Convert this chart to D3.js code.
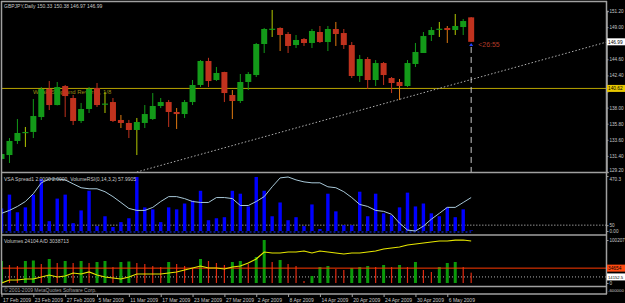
<!DOCTYPE html>
<html>
<head>
<meta charset="utf-8">
<script src="https://cdn.jsdelivr.net/npm/d3@7"></script>
<style>
  html, body { margin: 0; padding: 0; background: #000; overflow: hidden; }
  svg { display: block; }
  text { font-family: "Liberation Sans", Arial, sans-serif; }
</style>
</head>
<body>
<svg id="chart"></svg>
<script>
const WIDTH = 625;
const HEIGHT = 303;

// daily candles, 17 Feb 2009 .. 11 May 2009 (60 bars)
const opens  = [130.98,131.52,133.44,134.60,134.67,136.71,140.54,138.35,140.95,139.31,
                136.17,137.81,140.68,138.45,138.76,136.31,135.90,134.94,135.90,136.44,
                138.22,138.76,137.40,137.12,138.76,141.09,144.37,141.77,142.86,139.72,
                138.90,141.50,142.45,146.69,148.70,148.88,148.06,146.55,147.37,146.83,
                148.33,146.96,148.74,148.19,146.55,142.32,144.64,141.77,144.09,142.04,
                141.50,140.95,143.96,145.46,147.92,148.70,148.88,148.60,149.01,150.33];
const highs  = [132.20,133.84,136.44,135.35,139.17,140.81,141.63,141.50,141.09,139.72,
                138.63,140.81,141.36,140.13,139.31,136.99,136.31,136.58,138.35,139.99,
                139.31,139.04,137.94,139.04,141.77,144.50,144.80,143.55,142.90,140.40,
                142.59,142.86,146.83,148.88,151.34,148.95,148.33,147.92,147.51,148.74,
                149.15,149.15,149.70,148.74,146.96,145.19,144.91,144.50,144.23,142.18,
                141.91,144.50,146.83,148.33,149.01,149.70,149.15,150.79,150.11,150.38];
const lows   = [130.56,130.43,133.03,132.62,133.84,136.31,137.67,138.30,136.71,135.62,
                135.90,137.26,138.08,137.26,136.03,135.21,133.84,131.52,135.21,136.31,
                137.94,135.35,135.08,136.58,138.35,140.81,140.81,141.63,138.76,136.44,
                138.63,140.40,142.18,145.46,147.65,145.73,145.46,146.14,146.42,146.14,
                146.83,145.73,146.42,146.01,142.04,141.50,140.54,140.95,141.09,139.99,
                139.04,140.81,143.55,145.46,147.10,147.65,146.83,147.92,147.92,146.97];
const closes = [131.66,133.44,134.53,134.67,136.85,140.54,138.35,140.81,139.58,136.17,
                137.81,140.54,138.35,138.55,136.17,135.90,134.94,136.03,137.12,138.22,
                138.76,137.40,137.12,138.76,141.09,144.37,141.63,142.73,139.99,138.90,
                141.50,142.59,146.69,148.74,148.78,147.92,146.42,147.24,146.83,148.47,
                146.96,148.74,148.06,146.55,142.32,144.64,141.77,144.09,142.45,141.36,
                140.95,144.09,145.60,147.78,148.60,148.78,148.60,149.15,149.83,146.99];

const dateTickIdx = [0, 4, 8, 12, 16, 20, 24, 28, 32, 36, 40, 44, 48, 52, 56];
const dateLabels = ["17 Feb 2009", "23 Feb 2009", "27 Feb 2009", "5 Mar 2009", "11 Mar 2009",
                    "17 Mar 2009", "23 Mar 2009", "27 Mar 2009", "2 Apr 2009", "8 Apr 2009",
                    "14 Apr 2009", "20 Apr 2009", "24 Apr 2009", "30 Apr 2009", "6 May 2009"];
const priceTicks = [129.2, 131.4, 133.6, 135.8, 138.0, 140.2, 142.4, 144.6, 146.8, 149.0, 151.2];

const levelPrice = 140.62;
const levelText = "Weak, Stop and Reverse, 1/8";
const trendPts = [[17, 129.2], [76, 146.95]];
const timerText = "<26:55";

// VSA spread histogram + VolumeRSI line
const spread = [193,311,160,202,311,445,84,277,311,67,
                176,344,42,126,34,76,109,462,202,185,
                76,202,185,235,260,344,92,109,118,344,
                319,210,462,344,126,244,92,118,42,227,
                17,319,168,50,50,336,126,319,151,134,
                202,328,210,235,151,126,202,118,185,5];
const volRsi = [151,176,210,252,319,412,445,445,437,403,
                370,361,361,336,294,244,193,176,176,202,
                252,294,294,277,252,244,244,286,286,277,
                218,218,252,294,378,454,462,437,420,412,
                412,378,370,336,286,227,210,176,168,143,
                67,8,0,42,101,151,202,202,244,286];
const spreadTicks = [470.3, 50, 0];
const spreadTickLabels = ["470.3", "50", "0.00"];

// Volumes + A/D
const volumes = [51260,41940,39610,51260,52425,44270,55920,46600,51260,46600,
                 51260,46600,48930,51260,37280,48930,50095,46600,44270,39610,
                 37280,48930,44270,39610,34950,55920,51260,46600,41940,48930,
                 51260,44270,60580,100207,48930,53590,44270,39610,4660,16310,
                 37280,39610,32620,30290,34950,37280,39610,37280,41940,37280,
                 41940,37280,48930,30290,25630,37280,46600,48930,37280,24104];
const adLine = [0,6990,6990,9320,9320,13980,18640,13980,16310,23300,
                20970,25630,18640,13980,11650,9320,13980,20970,20970,20970,
                20970,23300,25630,30290,34950,39610,34950,34950,32620,37280,
                39610,46600,55920,72230,69900,69900,72230,72230,74560,69900,
                74560,72230,69900,67570,69900,69900,72230,74560,79220,81550,
                83880,88540,90870,93200,95530,97860,97860,100100,100190,97860];
const volMa = 34654;
const volMark = 14152.5;

const svg = d3.select("#chart").attr("width", WIDTH).attr("height", HEIGHT);
svg.append("rect").attr("width", WIDTH).attr("height", HEIGHT).attr("fill", "#000");

const x = d3.scaleLinear().domain([0, 76]).range([1.5, 606.5]);
const yPrice = d3.scaleLinear().domain([129.2, 151.2]).range([172, 11]);
const ySpread = d3.scaleLinear().domain([0, 470.3]).range([231, 176]);
const yVol = d3.scaleLinear().domain([0, 100207]).range([283, 240]);

const defs = svg.append("defs");
const addClip = (id, y0, y1) => {
  defs.append("clipPath").attr("id", id)
      .append("rect").attr("x", 2).attr("y", y0).attr("width", 604).attr("height", y1 - y0);
};
addClip("clipMain", 2, 172);
addClip("clipSpread", 174, 234);
addClip("clipVol", 236, 286);

const smallText = (g, tx, ty, str, color, size) =>
  g.append("text").attr("x", tx).attr("y", ty).attr("fill", color)
   .attr("font-size", size || 5).text(str);

// ---------- main price panel ----------
const main = svg.append("g").attr("clip-path", "url(#clipMain)");

main.append("text")
    .attr("x", 33).attr("y", yPrice(levelPrice) + 5.5)
    .attr("fill", "#9c8c10").attr("font-size", 6)
    .text(levelText);

main.append("line")
    .attr("x1", 2).attr("x2", 606)
    .attr("y1", yPrice(levelPrice)).attr("y2", yPrice(levelPrice))
    .attr("stroke", "#b8a400").attr("stroke-width", 1);

main.append("line")
    .attr("x1", x(trendPts[0][0])).attr("y1", yPrice(trendPts[0][1]))
    .attr("x2", x(trendPts[1][0])).attr("y2", yPrice(trendPts[1][1]))
    .attr("stroke", "#b0b0b0").attr("stroke-width", 1)
    .attr("stroke-dasharray", "1.5,2");

const last = opens.length - 1;
main.append("line")
    .attr("x1", x(last)).attr("x2", x(last))
    .attr("y1", yPrice(lows[last]) + 5).attr("y2", 172)
    .attr("stroke", "#c8c8c8").attr("stroke-dasharray", "6,4");

const bull = i => closes[i] >= opens[i];
const bodyColor = i => bull(i) ? "#139a19" : "#c0321e";
const wickColor = i => {
  const small = Math.abs(closes[i] - opens[i]) < 0.3 * (highs[i] - lows[i]);
  if (bull(i)) return small ? "#b4c800" : "#139a19";
  return small ? "#e07a10" : "#c0321e";
};

const candles = main.selectAll("g.candle").data(d3.range(opens.length)).enter()
                    .append("g").attr("class", "candle");
candles.append("line")
       .attr("x1", i => x(i)).attr("x2", i => x(i))
       .attr("y1", i => yPrice(highs[i])).attr("y2", i => yPrice(lows[i]))
       .attr("stroke", wickColor).attr("stroke-width", 1);
candles.append("rect")
       .attr("x", i => x(i) - 3).attr("width", 6)
       .attr("y", i => yPrice(Math.max(opens[i], closes[i])))
       .attr("height", i => Math.max(1.2, Math.abs(yPrice(opens[i]) - yPrice(closes[i]))))
       .attr("fill", bodyColor);

// blue arrow under the last candle
const ax = x(last), ay = yPrice(lows[last]) + 1;
main.append("path")
    .attr("d", `M${ax},${ay} L${ax - 2},${ay + 3} L${ax + 2},${ay + 3} Z`)
    .attr("fill", "#2040ff");
main.append("text")
    .attr("x", x(last) + 7).attr("y", yPrice(lows[last]) + 5)
    .attr("fill", "#b03a28").attr("font-size", 7)
    .text(timerText);

smallText(svg, 4, 8, `GBPJPY,Daily  ${opens[last].toFixed(2)} ${highs[last].toFixed(2)} ${lows[last].toFixed(2)} ${closes[last].toFixed(2)}`, "#c8c8c8");

// ---------- VSA spread panel ----------
const sp = svg.append("g").attr("clip-path", "url(#clipSpread)");

sp.append("line")
  .attr("x1", 2).attr("x2", 606)
  .attr("y1", ySpread(50)).attr("y2", ySpread(50))
  .attr("stroke", "#909090").attr("stroke-dasharray", "1.5,1.5");

sp.selectAll("rect.sp").data(spread).enter().append("rect")
  .attr("x", (d, i) => x(i) - 1.7).attr("width", 3.4)
  .attr("y", d => ySpread(d))
  .attr("height", d => ySpread(0) - ySpread(d))
  .attr("fill", "#0000ff");

sp.append("line")
  .attr("x1", x(0)).attr("x2", x(last))
  .attr("y1", ySpread(0) + 1).attr("y2", ySpread(0) + 1)
  .attr("stroke", "#1030ff").attr("stroke-dasharray", "2,2");

sp.append("path")
  .datum(volRsi)
  .attr("d", d3.line().x((d, i) => x(i)).y(d => ySpread(d)))
  .attr("fill", "none").attr("stroke", "#a8c8d8").attr("stroke-width", 1);

smallText(svg, 4, 181, "VSA Spread1 2.0000 2.0000, VolumeRSI(0,14,3,2) 57.9905", "#c8c8c8");

// ---------- volumes panel ----------
const vp = svg.append("g").attr("clip-path", "url(#clipVol)");

vp.append("line")
  .attr("x1", 2).attr("x2", 606)
  .attr("y1", yVol(volMark)).attr("y2", yVol(volMark))
  .attr("stroke", "#b0b0b0").attr("stroke-dasharray", "1,2");

const volUp = i => i === 0 || volumes[i] > volumes[i - 1];
vp.selectAll("rect.vol").data(volumes).enter().append("rect")
  .attr("x", (d, i) => x(i) - (volUp(i) ? 1.5 : 0.6))
  .attr("width", (d, i) => volUp(i) ? 3 : 1.2)
  .attr("y", d => yVol(d))
  .attr("height", d => yVol(0) - yVol(d))
  .attr("fill", (d, i) => volUp(i) ? "#0a9a0a" : "#e02a10");

vp.append("line")
  .attr("x1", 2).attr("x2", 606)
  .attr("y1", yVol(volMa)).attr("y2", yVol(volMa))
  .attr("stroke", "#ff3a00").attr("stroke-width", 1);

vp.append("path")
  .datum(adLine)
  .attr("d", d3.line().x((d, i) => x(i)).y(d => yVol(d)))
  .attr("fill", "none").attr("stroke", "#e6e600").attr("stroke-width", 1.2);

smallText(svg, 4, 243, `Volumes ${volumes[last]}  A/D 3038713`, "#c8c8c8");
smallText(svg, 4, 292, "© 2001-2009 MetaQuotes Software Corp.", "#a0a0a0");

// ---------- frame ----------
const frame = svg.append("g").attr("stroke", "#a0a0a0").attr("stroke-width", 1.5);
[1.5, 172.5, 235, 286.5, 294].forEach(yy =>
  frame.append("line").attr("x1", 1).attr("x2", 607).attr("y1", yy).attr("y2", yy));
frame.append("line").attr("x1", 1.5).attr("x2", 1.5).attr("y1", 1).attr("y2", 294);

// ---------- axes ----------
const styleAxis = g => {
  g.select(".domain").attr("stroke", "#a0a0a0").attr("stroke-width", 1.5);
  g.selectAll(".tick line").attr("stroke", "#a0a0a0");
  g.selectAll(".tick text").attr("fill", "#c8c8c8").attr("font-size", 4.6)
   .attr("font-family", "Liberation Sans, Arial, sans-serif");
};

// price labels hidden where a value box sits on top of them
const boxPrices = [closes[last], levelPrice];
const priceAxis = svg.append("g").attr("transform", "translate(606.5,0)")
   .call(d3.axisRight(yPrice).tickValues(priceTicks).tickSize(2).tickPadding(1)
           .tickFormat(d3.format(".2f")))
   .call(styleAxis);
priceAxis.selectAll(".tick text")
   .attr("display", d => boxPrices.some(b => Math.abs(yPrice(b) - yPrice(d)) < 5) ? "none" : null)
   .attr("dy", d => d === 129.2 ? "-0.1em" : "0.32em");

const spreadAxis = svg.append("g").attr("transform", "translate(606.5,0)")
   .call(d3.axisRight(ySpread).tickValues(spreadTicks).tickSize(2).tickPadding(1)
           .tickFormat((d, i) => spreadTickLabels[i]))
   .call(styleAxis)
   .call(g => g.select(".domain").remove());
spreadAxis.selectAll(".tick text").attr("dy", d => d === 470.3 ? "0.9em" : "0.32em");

svg.append("g").attr("transform", "translate(606.5,0)")
   .call(d3.axisRight(yVol).tickValues([100207, 0]).tickSize(2).tickPadding(1)
           .tickFormat(d3.format("d")))
   .call(styleAxis)
   .call(g => g.select(".domain").remove());

svg.append("line").attr("x1", 606.5).attr("x2", 606.5).attr("y1", 1).attr("y2", 294)
   .attr("stroke", "#a0a0a0").attr("stroke-width", 1.5);
smallText(svg, 608, 292, "-600000", "#c8c8c8", 4.3);

const xAxis = svg.append("g").attr("transform", "translate(0,294)")
   .call(d3.axisBottom(x).tickValues(dateTickIdx).tickSize(3)
           .tickFormat((d, i) => dateLabels[i]))
   .call(styleAxis)
   .call(g => g.select(".domain").remove());
xAxis.selectAll(".tick text").attr("text-anchor", "start").attr("x", 1).attr("y", 4)
     .attr("dy", "0.71em").attr("font-size", 5);

// ---------- right-side value boxes ----------
const valueBox = (yy, label, bg, fg) => {
  const g = svg.append("g").attr("transform", `translate(607,${yy})`);
  g.append("rect").attr("x", 0).attr("y", -3.5).attr("width", 18).attr("height", 7).attr("fill", bg);
  g.append("text").attr("x", 1).attr("y", 1.7).attr("fill", fg)
   .attr("font-size", label.length > 6 ? 4.2 : 4.8).text(label);
};
valueBox(yPrice(closes[last]), closes[last].toFixed(2), "#ffffff", "#000");
valueBox(yPrice(levelPrice), levelPrice.toFixed(2), "#e8c800", "#000");
valueBox(yVol(volMa), String(volMa), "#ff4a10", "#000");
valueBox(yVol(volMark), String(volMark), "#ffffff", "#000");
</script>
</body>
</html>
